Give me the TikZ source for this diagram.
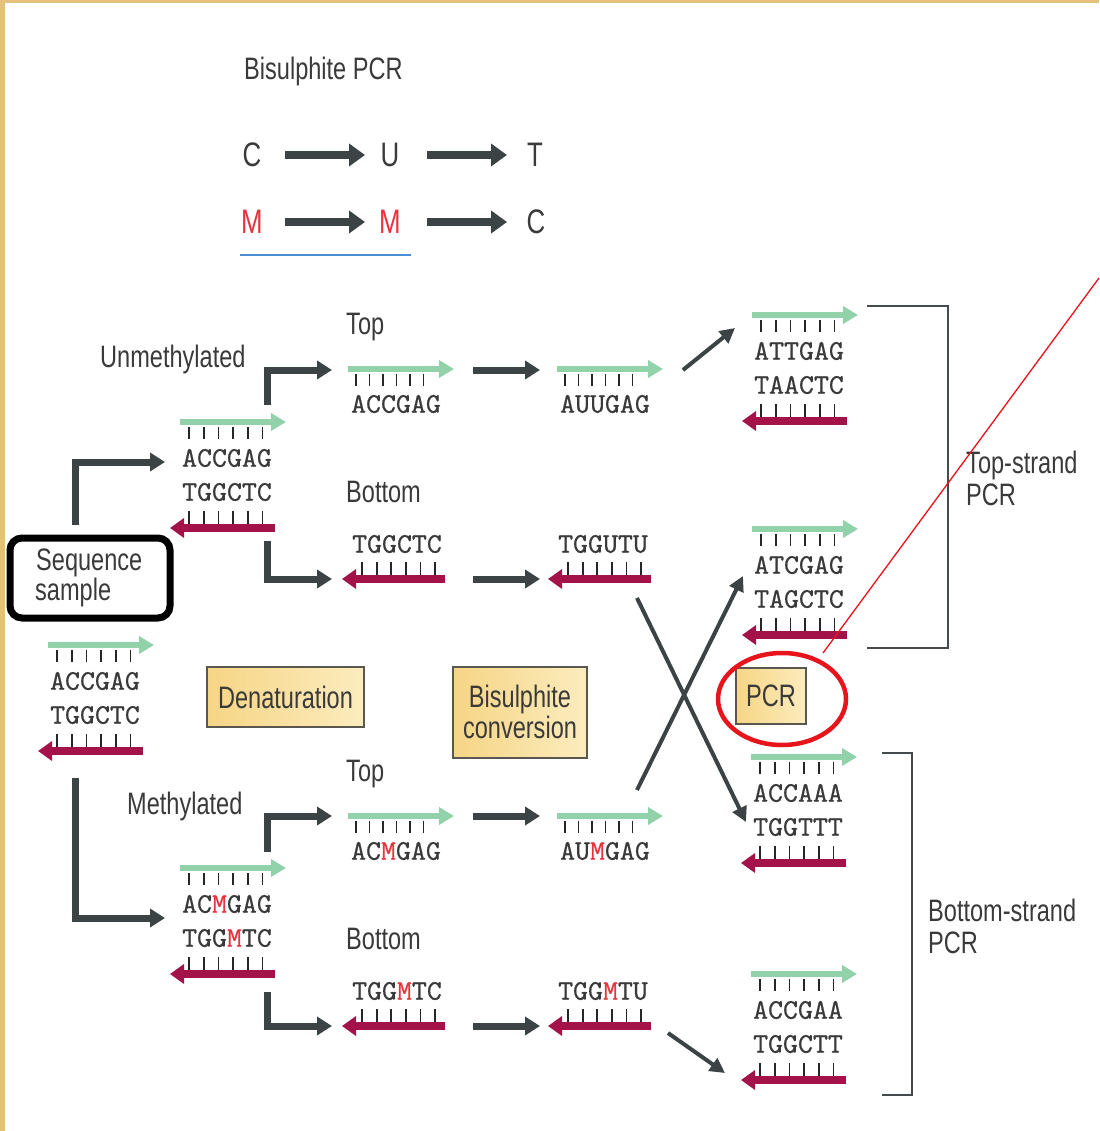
\documentclass[tikz,border=0pt]{standalone}
\usepackage{fontspec}
\setmainfont{Liberation Sans}[FakeStretch=0.76]
\newfontfamily\seqfont{lmmono10-regular.otf}[FakeBold=0.6]
\usetikzlibrary{arrows.meta,calc,shapes.geometric}
\definecolor{txt}{HTML}{3A3A3A}
\definecolor{conncol}{HTML}{3B4345}
\definecolor{sgreen}{HTML}{92D2AA}
\definecolor{sred}{HTML}{A3134A}
\definecolor{mred}{HTML}{E8323E}
\definecolor{boxfill}{HTML}{F6D585}
\definecolor{boxlight}{HTML}{FCECBE}
\definecolor{boxline}{HTML}{5A5650}
\definecolor{parch}{HTML}{E4C27E}
\definecolor{ulblue}{HTML}{4A8FD4}
\definecolor{brk}{HTML}{454A4C}
\definecolor{hired}{HTML}{E8141C}
\tikzset{
  lbl/.style={font=\fontsize{31}{34}\selectfont, text=txt, inner sep=0pt, anchor=base west},
  big/.style={font=\fontsize{34}{36}\selectfont, text=txt, inner sep=0pt, anchor=base},
  seq/.style={font=\seqfont\fontsize{28.5}{30}\selectfont, text=txt, inner sep=0pt},
  garr/.style={draw=sgreen, line width=6.5pt, -{Triangle[length=15pt,width=17pt]}},
  rarr/.style={draw=sred, line width=8pt, -{Triangle[length=14pt,width=19pt]}},
  tick/.style={draw=black!85, line width=1.8pt},
  conn/.style={draw=conncol, line width=7pt, -{Triangle[length=15pt,width=18pt]}},
  rowarr/.style={draw=conncol, line width=8pt, -{Triangle[length=16pt,width=22pt]}},
  diag/.style={draw=conncol, line width=4pt, -{Triangle[length=15pt,width=15pt]}},
  ybox/.style={draw=boxline, line width=2pt, left color=boxfill, right color=boxlight, inner sep=0pt, font=\fontsize{31}{34}\selectfont, text=txt, align=center},
  bracket/.style={draw=brk, line width=2.5pt},
}
\newcommand\mM{\textcolor{mred}{M}}
% duplex: name, X (green start), Y (green y), top text, bottom text
\newcommand\duplexpair[5]{%
  \draw[garr] (#2,#3) -- ++(106,0);
  \foreach \i in {0,...,5} {\draw[tick] (#2+9+\i*14.7,#3+5) -- ++(0,12);}
  \node[seq] (#1-a) at (#2+47,#3+36) {#4};
  \node[seq] (#1-b) at (#2+47,#3+70) {#5};
  \foreach \i in {0,...,5} {\draw[tick] (#2+9+\i*14.7,#3+102) -- ++(0,-13);}
  \draw[rarr] (#2+95,#3+106) -- (#2-10,#3+106);
}
% single top strand: name, X, Y, text
\newcommand\topsingle[4]{%
  \draw[garr] (#2,#3) -- ++(106,0);
  \foreach \i in {0,...,5} {\draw[tick] (#2+8+\i*13.5,#3+5) -- ++(0,12);}
  \node[seq] (#1) at (#2+48,#3+35) {#4};
}
% single bottom strand: name, X (tip), Y, text
\newcommand\botsingle[4]{%
  \draw[rarr] (#2+103,#3) -- (#2,#3);
  \foreach \i in {0,...,5} {\draw[tick] (#2+20+\i*14.6,#3-4) -- ++(0,-13);}
  \node[seq] (#1) at (#2+55,#3-35) {#4};
}
\begin{document}
\begin{tikzpicture}[x=1pt,y=-1pt]
\useasboundingbox (0,0) rectangle (1099,1131);
\fill[parch] (0,0) rectangle (1099,1131);
\fill[white] (5,3) rectangle (1099,1131);

% header
\node[lbl] (title) at (244,80) {Bisulphite PCR};
\node[big] (c1) at (252,167) {C};
\node[big] (u1) at (390,167) {U};
\node[big] (t1) at (535,167) {T};
\node[big, text=mred] (m1) at (252,234) {M};
\node[big, text=mred] (m2) at (390,234) {M};
\node[big] (c2) at (536,234) {C};
\coordinate (r1a) at (285,155); \coordinate (r1b) at (365,155);
\coordinate (r2a) at (427,155); \coordinate (r2b) at (507,155);
\coordinate (r3a) at (285,222); \coordinate (r3b) at (365,222);
\coordinate (r4a) at (427,222); \coordinate (r4b) at (507,222);
\draw[rowarr] (r1a) -- (r1b);
\draw[rowarr] (r2a) -- (r2b);
\draw[rowarr] (r3a) -- (r3b);
\draw[rowarr] (r4a) -- (r4b);
\coordinate (ul1) at (240,255); \coordinate (ul2) at (411,255);
\draw[ulblue, line width=2pt] (ul1) -- (ul2);

% sequence sample
\node[draw=black, line width=7pt, rounded corners=12pt, minimum width=160pt, minimum height=80pt, inner sep=0pt] (sample) at (90,578) {};
\node[lbl] (seqA) at (36,570) {Sequence};
\node[lbl] (seqB) at (35,600) {sample};
\duplexpair{orig}{48}{645}{ACCGAG}{TGGCTC}

% labels
\node[lbl] (unm) at (100,367) {Unmethylated};
\node[lbl] (met) at (127,814) {Methylated};
\node[lbl] (top1) at (346,334) {Top};
\node[lbl] (bot1) at (346,502) {Bottom};
\node[lbl] (top2) at (346,781) {Top};
\node[lbl] (bot2) at (346,949) {Bottom};

% duplexes
\duplexpair{unmd}{180}{422}{ACCGAG}{TGGCTC}
\duplexpair{metd}{180}{868}{AC\mM GAG}{TGG\mM TC}

% single strands
\topsingle{s1}{348}{369}{ACCGAG}
\topsingle{s2}{557}{369}{AUUGAG}
\botsingle{s3}{342}{579}{TGGCTC}
\botsingle{s4}{548}{579}{TGGUTU}
\topsingle{s5}{348}{816}{AC\mM GAG}
\topsingle{s6}{557}{816}{AU\mM GAG}
\botsingle{s7}{342}{1026}{TGG\mM TC}
\botsingle{s8}{548}{1026}{TGG\mM TU}

% PCR products
\duplexpair{p1}{752}{315}{ATTGAG}{TAACTC}
\duplexpair{p2}{752}{529}{ATCGAG}{TAGCTC}
\duplexpair{p3}{751}{757}{ACCAAA}{TGGTTT}
\duplexpair{p4}{751}{974}{ACCGAA}{TGGCTT}

% boxes
\node[ybox, minimum width=157pt, minimum height=60pt] (den) at (285.5,697) {Denaturation};
\node[ybox, minimum width=134pt, minimum height=91pt] (bis) at (520,712) {Bisulphite\\[-3pt]conversion};
\node[ybox, minimum width=70pt, minimum height=56pt] (pcr) at (771,695.5) {PCR};

% elbow connectors
\coordinate (e1a) at (75,525);  \coordinate (e1b) at (165,462);
\coordinate (e2a) at (75,778);  \coordinate (e2b) at (165,918);
\coordinate (e3a) at (267,405); \coordinate (e3b) at (332,370);
\coordinate (e4a) at (267,541); \coordinate (e4b) at (332,579);
\coordinate (e5a) at (267,852); \coordinate (e5b) at (332,816);
\coordinate (e6a) at (267,992); \coordinate (e6b) at (332,1026);
\draw[conn] (e1a) |- (e1b);
\draw[conn] (e2a) |- (e2b);
\draw[conn] (e3a) |- (e3b);
\draw[conn] (e4a) |- (e4b);
\draw[conn] (e5a) |- (e5b);
\draw[conn] (e6a) |- (e6b);

% straight conversion arrows
\coordinate (h1a) at (473,370);  \coordinate (h1b) at (540,370);
\coordinate (h2a) at (473,579);  \coordinate (h2b) at (540,579);
\coordinate (h3a) at (473,816);  \coordinate (h3b) at (540,816);
\coordinate (h4a) at (473,1026); \coordinate (h4b) at (540,1026);
\draw[conn] (h1a) -- (h1b);
\draw[conn] (h2a) -- (h2b);
\draw[conn] (h3a) -- (h3b);
\draw[conn] (h4a) -- (h4b);

% diagonal PCR arrows
\coordinate (d1a) at (683,370);  \coordinate (d1b) at (735,328);
\coordinate (d2a) at (637,598);  \coordinate (d2b) at (746,822);
\coordinate (d3a) at (637,790);  \coordinate (d3b) at (743,576);
\coordinate (d4a) at (668,1033); \coordinate (d4b) at (725,1073);
\draw[diag] (d1a) -- (d1b);
\draw[diag] (d2a) -- (d2b);
\draw[diag] (d3a) -- (d3b);
\draw[diag] (d4a) -- (d4b);

% brackets
\draw[bracket] (867,306) coordinate (b1a) -- (948,306) -- (948,648) -- (867,648) coordinate (b1b);
\draw[bracket] (882,753) coordinate (b2a) -- (912,753) -- (912,1095) -- (882,1095) coordinate (b2b);
\node[lbl] (tsA) at (966,473) {Top-strand};
\node[lbl] (tsB) at (966,505) {PCR};
\node[lbl] (bsA) at (928,921) {Bottom-strand};
\node[lbl] (bsB) at (928,953) {PCR};

% red highlight
\node[draw=hired, line width=4.5pt, ellipse, minimum width=128pt, minimum height=92pt, inner sep=0pt] (ring) at (782,699) {};
\coordinate (rl1) at (1099,278); \coordinate (rl2) at (823,653);
\draw[hired, line width=1.3pt] (rl1) -- (rl2);
\end{tikzpicture}
\end{document}
